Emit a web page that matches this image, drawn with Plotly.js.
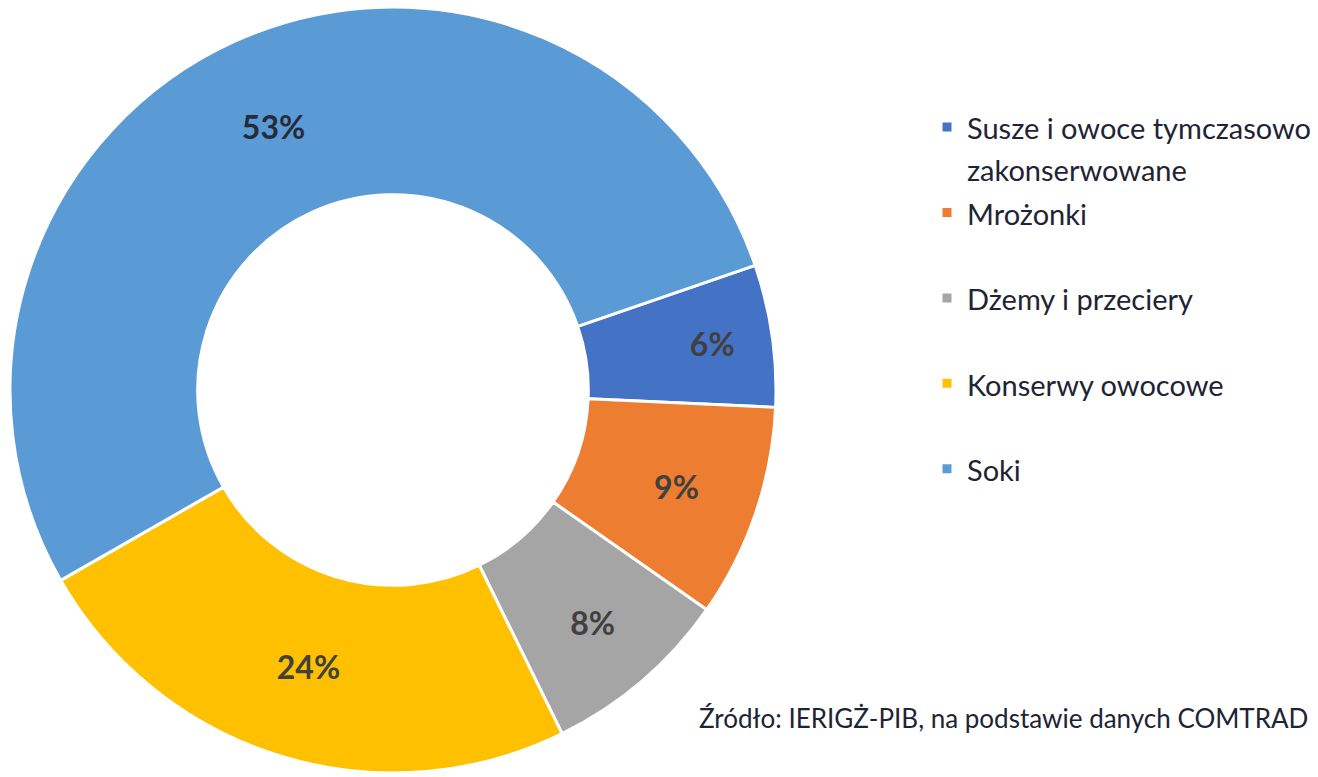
<!DOCTYPE html>
<html>
<head>
<meta charset="utf-8">
<script src="https://cdn.plot.ly/plotly-3.0.1.min.js"></script>
<style>html,body{margin:0;padding:0;background:#fff;}#chart{width:1318px;height:777px;}</style>
</head>
<body>
<div id="chart"></div>
<script>
const categories = ["Susze i owoce tymczasowo<br>zakonserwowane", "Mrożonki", "Dżemy i przeciery", "Konserwy owocowe", "Soki"];
const shares = [6, 9, 8, 24, 53];
const colors = ["#4472C4", "#ED7D31", "#A5A5A5", "#FFC000", "#5B9BD5"];
const labelColors = ["#404040", "#404040", "#404040", "#404040", "#262b3a"];
const sourceText = "Źródło: IERIGŻ-PIB, na podstawie danych COMTRAD";

const W = 1318, H = 777;
const cx = 393, cy = 390, R = 383;

// legend entries: visible text at 29px, every entry padded to two lines so items are evenly spaced
const legendLabels = categories.map(function (c) {
  const lines = c.split("<br>");
  while (lines.length < 2) lines.push(" ");
  return lines.map(function (l) { return '<span style="font-size:29px">' + l + '</span>'; }).join("<br>");
});

const data = [{
  type: "pie",
  labels: legendLabels,
  values: shares,
  sort: false,
  direction: "clockwise",
  rotation: 71,
  hole: 0.51,
  marker: {colors: colors, line: {color: "#ffffff", width: 3}},
  textinfo: "percent",
  texttemplate: "%{percent:.0%}",
  textposition: "inside",
  insidetextorientation: "horizontal",
  textfont: {family: "Lato, sans-serif", size: 32, weight: "bold", color: labelColors},
  hoverinfo: "none",
  domain: {x: [(cx - R) / W, (cx + R) / W], y: [(H - cy - R) / H, (H - cy + R) / H]}
}];

const layout = {
  width: W, height: H,
  margin: {l: 0, r: 0, t: 0, b: 0, autoexpand: false},
  paper_bgcolor: "#ffffff",
  showlegend: true,
  legend: {
    x: 927 / W, xanchor: "left",
    y: 1 - 100 / H, yanchor: "top",
    valign: "top",
    font: {family: "Lato, sans-serif", size: 31.7, color: "#1e2433"},
    bgcolor: "rgba(0,0,0,0)"
  },
  annotations: [{
    text: sourceText,
    xref: "paper", yref: "paper",
    x: 697 / W, xanchor: "left",
    y: 1 - 718 / H, yanchor: "middle",
    showarrow: false,
    font: {family: "Lato, sans-serif", size: 26, color: "#1e2433"}
  }]
};

Plotly.newPlot("chart", data, layout, {displayModeBar: false, staticPlot: true});
</script>
</body>
</html>
